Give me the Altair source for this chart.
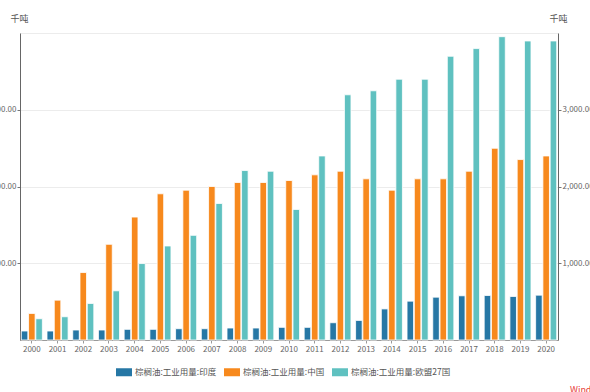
import altair as alt
import pandas as pd

# Palm oil industrial use by region, thousand tonnes
years = [str(y) for y in range(2000, 2021)]
series_names = ["棕榈油:工业用量:印度", "棕榈油:工业用量:中国", "棕榈油:工业用量:欧盟27国"]
india = [117, 117, 130, 130, 139, 139, 147, 147, 156, 156, 165, 165, 225, 255, 405, 506, 558, 576, 580, 567, 584]
china = [346, 519, 879, 1247, 1602, 1905, 1952, 2000, 2052, 2052, 2078, 2152, 2199, 2100, 1952, 2100, 2100, 2199, 2498, 2351, 2398]
eu = [277, 303, 476, 641, 996, 1225, 1364, 1779, 2208, 2199, 1701, 2398, 3195, 3247, 3398, 3398, 3697, 3797, 3952, 3896, 3896]
colors = ["#2677a5", "#f7891d", "#5fc1c0"]

rows = []
for name, vals in zip(series_names, [india, china, eu]):
    for yr, v in zip(years, vals):
        rows.append({"year": yr, "series": name, "value": v})
df = pd.DataFrame(rows)

FONT = "Noto Sans CJK SC"
y_scale = alt.Scale(domain=[0, 4000], nice=False)


def y_axis(orient, grid):
    return alt.Axis(
        orient=orient,
        title="千吨",
        titleAngle=0,
        titleX=-1 if orient == "left" else 0,
        titleY=-15,
        titleAlign="center",
        titleBaseline="middle",
        titleFontSize=9,
        titleFontWeight="normal",
        titleColor="#555",
        format=",.2f",
        values=[1000, 2000, 3000],
        tickSize=3,
        tickColor="#777",
        labelPadding=1,
        labelFontSize=8,
        labelColor="#666",
        domainColor="#666",
        grid=grid,
        gridColor="#ececec",
    )


bars = alt.Chart(df).mark_bar(stroke="white", strokeWidth=0.8).encode(
    x=alt.X(
        "year:N",
        sort=years,
        scale=alt.Scale(paddingInner=0.18, paddingOuter=0.05),
        axis=alt.Axis(
            title=None,
            labelAngle=0,
            labelFontSize=8,
            labelColor="#666",
            labelPadding=2,
            tickSize=3,
            tickColor="#999",
            domainColor="#999",
            grid=False,
        ),
    ),
    xOffset=alt.XOffset("series:N", sort=series_names, scale=alt.Scale(paddingInner=0.1)),
    y=alt.Y("value:Q", scale=y_scale, axis=y_axis("left", True)),
    color=alt.Color(
        "series:N",
        sort=series_names,
        scale=alt.Scale(domain=series_names, range=colors),
        legend=alt.Legend(
            orient="none",
            legendX=96,
            legendY=331,
            direction="horizontal",
            title=None,
            symbolType="M-1,-0.5H1V0.5H-1Z",
            symbolSize=256,
            symbolStrokeWidth=0,
            labelFontSize=8.5,
            labelColor="#555",
            labelOffset=3,
            columnPadding=7,
        ),
    ),
)

# Same scale mirrored on the right-hand axis
right_axis = alt.Chart(df).mark_tick(opacity=0).encode(
    y=alt.Y("value:Q", scale=y_scale, axis=y_axis("right", False)),
)

source = alt.Chart(pd.DataFrame({"t": ["Wind"]})).mark_text(
    color="#e8403a", fontSize=9, align="left", baseline="top"
).encode(text="t:N", x=alt.value(550), y=alt.value(353))

chart = (
    alt.layer(bars, right_axis, source)
    .resolve_scale(y="independent")
    .properties(
        width=538,
        height=307,
        autosize=alt.AutoSizeParams(type="none"),
        padding={"left": 20, "top": 33, "right": 32, "bottom": 52},
    )
    .configure(font=FONT)
    .configure_view(stroke="#ececec")
)

chart.save("out.html", embed_options={"renderer": "svg", "actions": False})
